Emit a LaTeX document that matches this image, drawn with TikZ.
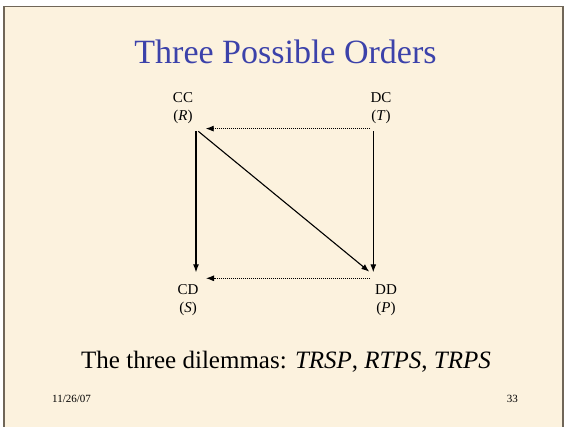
\documentclass[tikz,border=0pt]{standalone}
\usepackage{fontspec}
\setmainfont{Liberation Serif}
\usetikzlibrary{arrows.meta}
\definecolor{slidebg}{RGB}{252,242,222}
\definecolor{framecol}{RGB}{112,102,88}
\definecolor{titleblue}{RGB}{60,66,170}
\tikzset{
  lbl/.style={align=center,inner sep=0pt,font=\fontsize{15}{18}\selectfont},
  solidarrow/.style={line width=1.1pt,-{Latex[length=8pt,width=6pt]}},
  dotarrow/.style={line width=0.9pt,dash pattern=on 0.9pt off 1.1pt,-{Latex[length=8pt,width=6pt]}},
}
\begin{document}
\begin{tikzpicture}[x=1pt,y=-1pt]
\useasboundingbox (0,0) rectangle (565,426);
\fill[white] (0,0) rectangle (565,426);
\begin{scope}
\clip (0,0) rectangle (565,426);
\fill[slidebg] (4,6.5) rectangle (563,440);
\draw[framecol,line width=1.5pt] (4,6.5) rectangle (563,440);
\end{scope}
\node[anchor=base,text=titleblue,inner sep=0pt,font=\fontsize{34}{40}\selectfont] (title) at (285.5,63) {Three Possible Orders};
\node[lbl] (cc) at (183,108.5) {CC\\(\textit{R})};
\node[lbl] (dc) at (381,108.5) {DC\\(\textit{T})};
\node[lbl] (cd) at (188,300) {CD\\(\textit{S})};
\node[lbl] (dd) at (386,300) {DD\\(\textit{P})};
\coordinate (ccV) at (196,131.3);
\coordinate (ccD) at (198.3,131.3);
\coordinate (ccH) at (205.7,128.6);
\coordinate (dcV) at (373.3,131.3);
\coordinate (dcH) at (370,128.6);
\coordinate (cdV) at (196,272.3);
\coordinate (cdH) at (206,278.3);
\coordinate (ddV) at (373.3,272.3);
\coordinate (ddD) at (369.3,271.7);
\coordinate (ddH) at (370,278.3);
\draw[solidarrow] (ccV) -- (cdV);
\draw[solidarrow] (dcV) -- (ddV);
\draw[solidarrow] (ccD) -- (ddD);
\draw[dotarrow] (dcH) -- (ccH);
\draw[dotarrow] (ddH) -- (cdH);
\node[anchor=base west,inner sep=0pt,font=\fontsize{25}{30}\selectfont] (dilemmas) at (81,368.5) {The three dilemmas: \textit{TRSP}, \textit{RTPS}, \textit{TRPS}};
\node[anchor=base west,inner sep=0pt,font=\fontsize{11}{13}\selectfont] (date) at (52,402) {11/26/07};
\node[anchor=base east,inner sep=0pt,font=\fontsize{11}{13}\selectfont] (page) at (518,402) {33};
\end{tikzpicture}
\end{document}
